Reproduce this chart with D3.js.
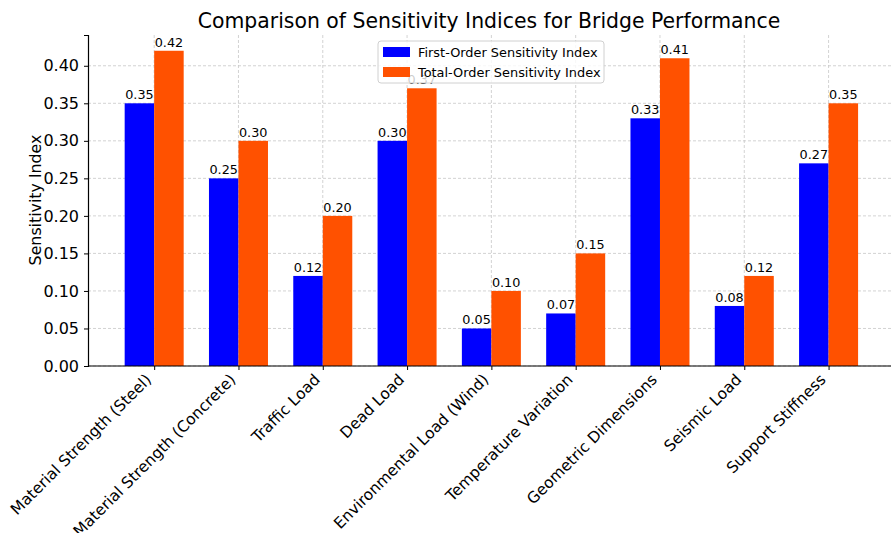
<!DOCTYPE html>
<html>
<head>
<meta charset="utf-8">
<script src="https://cdn.jsdelivr.net/npm/d3@7"></script>
<style>
  body { margin: 0; background: #fff; }
  svg, svg text { font-family: "DejaVu Sans", sans-serif; }
</style>
</head>
<body>
<svg id="chart" width="891" height="533"></svg>
<script>
const categories = [
  "Material Strength (Steel)", "Material Strength (Concrete)", "Traffic Load",
  "Dead Load", "Environmental Load (Wind)", "Temperature Variation",
  "Geometric Dimensions", "Seismic Load", "Support Stiffness"
];
const firstOrder = [0.35, 0.25, 0.12, 0.30, 0.05, 0.07, 0.33, 0.08, 0.27];
const totalOrder = [0.42, 0.30, 0.20, 0.37, 0.10, 0.15, 0.41, 0.12, 0.35];
const yTicks = [0.00, 0.05, 0.10, 0.15, 0.20, 0.25, 0.30, 0.35, 0.40];
const seriesNames = ["First-Order Sensitivity Index", "Total-Order Sensitivity Index"];
const colors = ["#0000ff", "#ff5100"];

const svg = d3.select("#chart");
const m = { left: 88, right: 891, top: 35, bottom: 366 };
const barW = 0.35;

// continuous x in category-index units, padded like a grouped bar plot
const x = d3.scaleLinear().domain([-0.785, 8.785]).range([m.left, m.left + 9.57 * 84.3]);
const y = d3.scaleLinear().domain([0, 0.441]).range([m.bottom, m.top]);

// grid
const grid = svg.append("g").attr("stroke", "#c8c8c8").attr("stroke-dasharray", "3,2").attr("stroke-width", 0.8);
grid.selectAll("line.h").data(yTicks).join("line")
  .attr("x1", m.left).attr("x2", m.right)
  .attr("y1", d => y(d)).attr("y2", d => y(d));
grid.selectAll("line.v").data(categories).join("line")
  .attr("x1", (d, i) => x(i)).attr("x2", (d, i) => x(i))
  .attr("y1", m.top).attr("y2", m.bottom);

// bars
const series = [firstOrder, totalOrder];
series.forEach((vals, s) => {
  const off = s === 0 ? -barW : 0;
  svg.append("g").selectAll("rect").data(vals).join("rect")
    .attr("x", (d, i) => x(i + off))
    .attr("width", (d, i) => x(i + off + barW) - x(i + off))
    .attr("y", d => y(d))
    .attr("height", d => y(0) - y(d))
    .attr("fill", colors[s]);
});

// value labels
series.forEach((vals, s) => {
  const off = s === 0 ? -barW / 2 : barW / 2;
  svg.append("g").selectAll("text").data(vals).join("text")
    .attr("x", (d, i) => x(i + off))
    .attr("y", d => y(d) - 4)
    .attr("text-anchor", "middle").attr("font-size", 12.8)
    .attr("fill", "#000")
    .text(d => d.toFixed(2));
});

// legend, semi-opaque, sits above the value labels
const lg = svg.append("g").attr("transform", "translate(378,41)");
lg.append("rect").attr("width", 226).attr("height", 42).attr("rx", 3)
  .attr("fill", "#fff").attr("fill-opacity", 0.8).attr("stroke", "#d0d0d0");
seriesNames.forEach((n, i) => {
  lg.append("rect").attr("x", 5).attr("y", 6 + i * 20).attr("width", 27).attr("height", 10).attr("fill", colors[i]);
  lg.append("text").attr("x", 40).attr("y", 15.5 + i * 20).attr("font-size", 12.9).text(n);
});

// axes
const yAxis = svg.append("g").attr("transform", `translate(${m.left},0)`)
  .call(d3.axisLeft(y).tickValues(yTicks).tickFormat(d3.format(".2f")).tickSizeOuter(0).tickSize(4));
yAxis.attr("font-family", "DejaVu Sans");
yAxis.selectAll("text").attr("font-size", 16).attr("fill", "#000").attr("dx", -2);
yAxis.select(".domain").attr("stroke", "#000").attr("stroke-width", 1.2);

const xAxis = svg.append("g").attr("transform", `translate(0,${m.bottom})`)
  .call(d3.axisBottom(x).tickValues(d3.range(categories.length)).tickFormat(i => categories[i]).tickSizeOuter(0).tickSize(4));
xAxis.attr("font-family", "DejaVu Sans");
xAxis.select(".domain").attr("stroke", "#000").attr("stroke-width", 1.2)
  .attr("d", `M${m.left},0H${m.right}`);
xAxis.selectAll("text")
  .attr("font-size", 15.5).attr("fill", "#000")
  .attr("text-anchor", "end")
  .attr("transform", "translate(-9,8) rotate(-45)")
  .attr("dy", "0.6em").attr("y", 0).attr("x", 0);

// title and y label
svg.append("text").attr("x", 489).attr("y", 28).attr("text-anchor", "middle")
  .attr("font-size", 20.4).text("Comparison of Sensitivity Indices for Bridge Performance");
svg.append("text").attr("transform", "translate(41,200) rotate(-90)").attr("text-anchor", "middle")
  .attr("font-size", 15.8).text("Sensitivity Index");
</script>
</body>
</html>
